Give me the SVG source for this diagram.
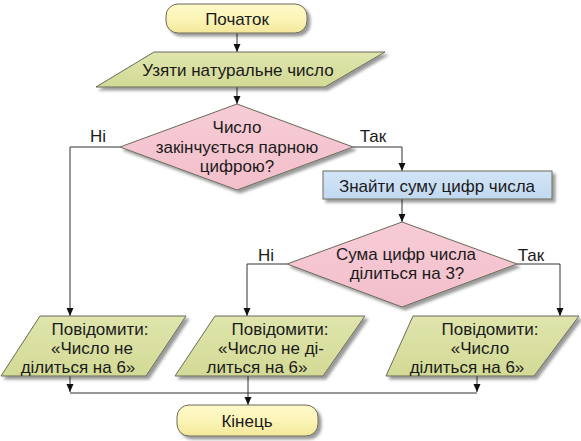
<svg xmlns="http://www.w3.org/2000/svg" width="581" height="441" viewBox="0 0 581 441">
<defs>
<filter id="sh" x="-10%" y="-20%" width="130%" height="160%">
<feDropShadow dx="3" dy="3" stdDeviation="1.8" flood-color="#000" flood-opacity="0.4"/>
</filter>
<linearGradient id="gy" x1="0" y1="0" x2="0" y2="1">
<stop offset="0" stop-color="#fdf8c8"/><stop offset="0.5" stop-color="#fcf5b8"/><stop offset="1" stop-color="#f3e79a"/>
</linearGradient>
<linearGradient id="gg" x1="0" y1="0" x2="0" y2="1">
<stop offset="0" stop-color="#dfe5ac"/><stop offset="1" stop-color="#d3da96"/>
</linearGradient>
<linearGradient id="gp" x1="0" y1="0" x2="0" y2="1">
<stop offset="0" stop-color="#f7ccd6"/><stop offset="1" stop-color="#f2bfcb"/>
</linearGradient>
<linearGradient id="gb" x1="0" y1="0" x2="0" y2="1">
<stop offset="0" stop-color="#d2e5f7"/><stop offset="1" stop-color="#c2d9f0"/>
</linearGradient>
<marker id="ar" viewBox="0 0 8 10" refX="8" refY="5" markerWidth="8" markerHeight="10" markerUnits="userSpaceOnUse" orient="auto">
<path d="M0,1.5 L8,5 L0,8.5 Z" fill="#111"/>
</marker>
<style>
text{font-family:"Liberation Sans",Arial,sans-serif;font-size:17px;fill:#1a1a1a;text-anchor:middle}
.n{stroke:#6a6a5a;stroke-width:1;filter:url(#sh)}
.c{fill:none;stroke:#333;stroke-width:1}
</style>
</defs>

<g id="connectors">
<path class="c" d="M237,33 V52" marker-end="url(#ar)"/>
<path class="c" d="M237,87 V104" marker-end="url(#ar)"/>
<path class="c" d="M120,147 H70 V316" marker-end="url(#ar)"/>
<path class="c" d="M353,147 H402 V171" marker-end="url(#ar)"/>
<path class="c" d="M402,199 V222" marker-end="url(#ar)"/>
<path class="c" d="M287,264 H247 V316" marker-end="url(#ar)"/>
<path class="c" d="M517,264 H560 V316" marker-end="url(#ar)"/>
<path class="c" d="M70,376 V392" marker-end="url(#ar)"/>
<path class="c" d="M477,376 V392" marker-end="url(#ar)"/>
<path class="c" d="M70,393 H477"/>
<path class="c" d="M248,376 V405" marker-end="url(#ar)"/>
<text x="98" y="142">Ні</text>
<text x="373" y="142">Так</text>
<text x="266" y="261">Ні</text>
<text x="531" y="261">Так</text>
</g>

<g id="start">
<rect class="n" x="166" y="4" width="141" height="29" rx="12" fill="url(#gy)"/>
<text x="237" y="25">Початок</text>
</g>

<g id="input">
<polygon class="n" points="154,52 385,52 325,87 96,87" fill="url(#gg)"/>
<text x="238" y="76">Узяти натуральне число</text>
</g>

<g id="cond1">
<polygon class="n" points="237,104 353,147 237,190 120,147" fill="url(#gp)"/>
<text x="237" y="133">Число</text>
<text x="237" y="153">закінчується парною</text>
<text x="237" y="172">цифрою?</text>
</g>

<g id="sum">
<rect class="n" x="323" y="171" width="229" height="28" fill="url(#gb)"/>
<text x="437" y="192">Знайти суму цифр числа</text>
</g>

<g id="cond2">
<polygon class="n" points="402,222 517,264 402,307 287,264" fill="url(#gp)"/>
<text x="406" y="260">Сума цифр числа</text>
<text x="407" y="279">ділиться на 3?</text>
</g>

<g id="out1">
<polygon class="n" points="40,316 186,316 146,376 1,376" fill="url(#gg)"/>
<text x="100" y="335">Повідомити:</text>
<text x="92" y="354">«Число не</text>
<text x="78" y="373">ділиться на 6»</text>
</g>

<g id="out2">
<polygon class="n" points="215,316 365,316 323,376 175,376" fill="url(#gg)"/>
<text x="280" y="335">Повідомити:</text>
<text x="271" y="354">«Число не ді-</text>
<text x="257" y="373">литься на 6»</text>
</g>

<g id="out3">
<polygon class="n" points="413,316 579,316 534,376 386,376" fill="url(#gg)"/>
<text x="490" y="335">Повідомити:</text>
<text x="480" y="354">«Число</text>
<text x="467" y="373">ділиться на 6»</text>
</g>

<g id="end">
<rect class="n" x="177" y="405" width="141" height="31" rx="12" fill="url(#gy)"/>
<text x="247" y="427">Кінець</text>
</g>
</svg>
